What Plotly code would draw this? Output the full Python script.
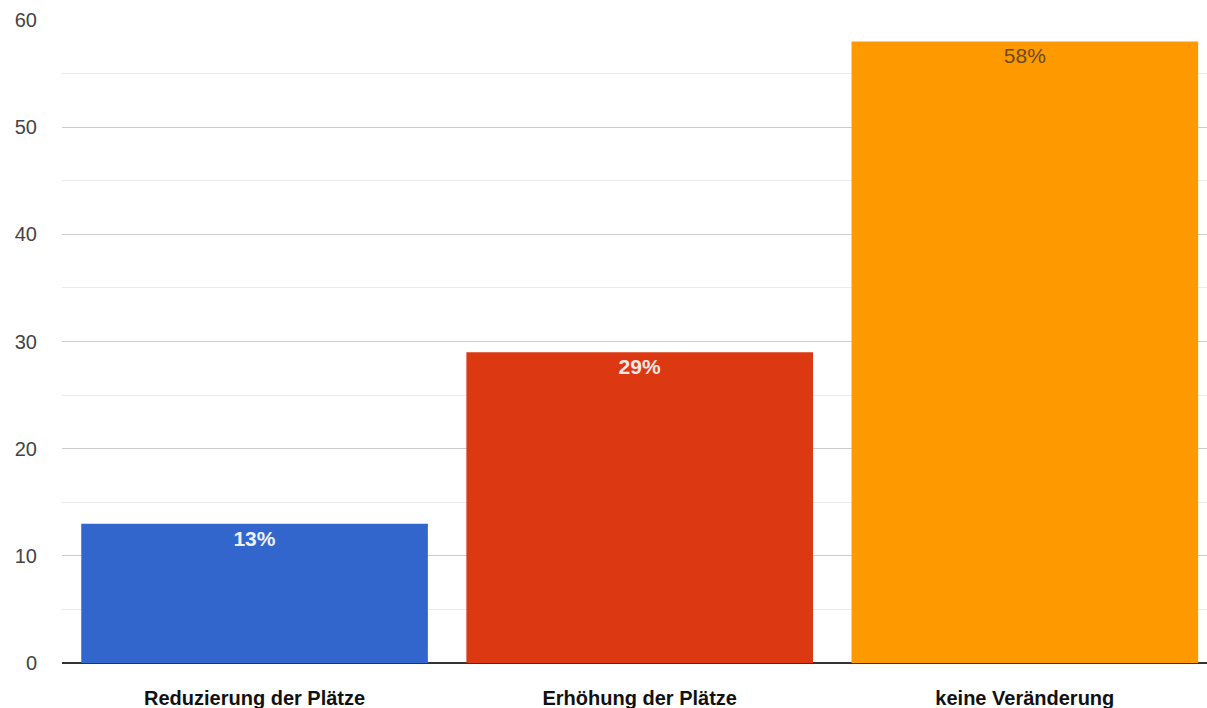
import plotly.graph_objects as go

categories = ["Reduzierung der Plätze", "Erhöhung der Plätze", "keine Veränderung"]
values = [13, 29, 58]
labels = ["<b>13%</b>", "<b>29%</b>", "58%"]
colors = ["#3366cc", "#dc3912", "#ff9900"]
label_colors = ["#eef0f6", "#f6e8e4", "#6b4a1a"]

fig = go.Figure()
fig.add_trace(go.Bar(
    x=categories,
    y=values,
    width=0.9,
    marker=dict(color=colors, line=dict(width=0)),
    text=labels,
    textposition="inside",
    insidetextanchor="end",
    textfont=dict(family="Arial, Liberation Sans", size=21, color=label_colors),
    textangle=0,
    cliponaxis=False,
    hoverinfo="skip",
))

fig.update_layout(
    width=1207,
    height=708,
    margin=dict(l=62, r=0, t=20, b=45),
    paper_bgcolor="white",
    plot_bgcolor="white",
    showlegend=False,
    bargap=0.1,
    font=dict(family="Arial, Liberation Sans", color="#444"),
)

fig.update_xaxes(
    type="category",
    range=[-0.5, 2.473],
    showgrid=False,
    showline=False,
    ticks="",
    tickfont=dict(family="Arial, Liberation Sans", size=20, color="#111"),
    ticklabelstandoff=21,
    tickprefix="<b>",
    ticksuffix="</b>",
)

fig.update_yaxes(
    range=[0, 60],
    tick0=0,
    dtick=10,
    showgrid=True,
    gridcolor="#cccccc",
    gridwidth=1,
    minor=dict(dtick=5, showgrid=True, gridcolor="#ebebeb", gridwidth=1),
    zeroline=True,
    zerolinecolor="#333333",
    zerolinewidth=1.5,
    showline=False,
    ticks="",
    tickfont=dict(family="Arial, Liberation Sans", size=20, color="#444"),
    ticklabelstandoff=24,
)

fig.write_html("out.html")
